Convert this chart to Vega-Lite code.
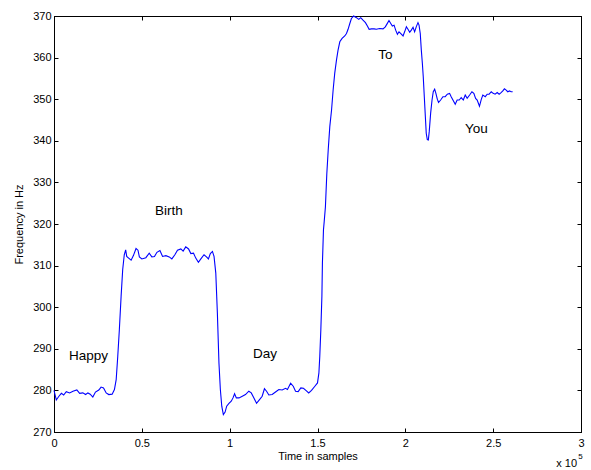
{
  "$schema": "https://vega.github.io/schema/vega-lite/v6.json",
  "width": 527,
  "height": 416,
  "autosize": "none",
  "padding": {"left": 54, "top": 16, "right": 10, "bottom": 38},
  "background": "white",
  "config": {
    "font": "Liberation Sans",
    "view": {"stroke": "black", "strokeWidth": 1},
    "axis": {
      "domainColor": "black", "tickColor": "black", "labelColor": "black", "titleColor": "black",
      "grid": false, "labelFont": "Liberation Sans", "titleFont": "Liberation Sans",
      "labelFontSize": 11, "titleFontSize": 11, "titleFontWeight": "normal", "tickSize": -4
    }
  },
  "datasets": {
    "pitch": [
      {"t":0,"f":280},{"t":0.013,"f":277.7},{"t":0.028,"f":278.6},{"t":0.042,"f":279.3},{"t":0.055,"f":278.9},{"t":0.07,"f":279.7},{"t":0.089,"f":279.4},{"t":0.108,"f":279.8},{"t":0.13,"f":280.1},{"t":0.146,"f":279.3},{"t":0.164,"f":279.4},{"t":0.18,"f":279.0},{"t":0.193,"f":279.4},{"t":0.206,"f":279.1},{"t":0.221,"f":278.4},{"t":0.236,"f":279.6},{"t":0.255,"f":280.1},{"t":0.268,"f":280.8},{"t":0.282,"f":280.6},{"t":0.297,"f":279.4},{"t":0.312,"f":279.0},{"t":0.331,"f":279.1},{"t":0.344,"f":280.2},{"t":0.354,"f":282.6},{"t":0.363,"f":288.2},{"t":0.372,"f":294.6},{"t":0.382,"f":302.6},{"t":0.391,"f":309},{"t":0.4,"f":312.6},{"t":0.408,"f":313.8},{"t":0.414,"f":312.2},{"t":0.425,"f":311.8},{"t":0.439,"f":311.3},{"t":0.452,"f":312.4},{"t":0.467,"f":314.1},{"t":0.478,"f":313.7},{"t":0.486,"f":312.1},{"t":0.5,"f":311.6},{"t":0.523,"f":311.9},{"t":0.542,"f":313},{"t":0.557,"f":312.1},{"t":0.572,"f":312.2},{"t":0.586,"f":313.2},{"t":0.603,"f":313.6},{"t":0.618,"f":312.2},{"t":0.637,"f":312.4},{"t":0.656,"f":312.1},{"t":0.671,"f":311.6},{"t":0.688,"f":312.6},{"t":0.703,"f":313.7},{"t":0.722,"f":314.0},{"t":0.735,"f":313.5},{"t":0.75,"f":314.5},{"t":0.766,"f":314},{"t":0.779,"f":312.9},{"t":0.794,"f":313},{"t":0.807,"f":311.8},{"t":0.822,"f":310.8},{"t":0.836,"f":311.6},{"t":0.854,"f":312.6},{"t":0.868,"f":312.1},{"t":0.879,"f":311.6},{"t":0.89,"f":312.9},{"t":0.902,"f":313.4},{"t":0.911,"f":312.2},{"t":0.921,"f":308.2},{"t":0.93,"f":298.6},{"t":0.939,"f":286.6},{"t":0.947,"f":280.2},{"t":0.955,"f":276.2},{"t":0.964,"f":274.2},{"t":0.974,"f":274.8},{"t":0.983,"f":276.2},{"t":0.996,"f":276.9},{"t":1.009,"f":277.4},{"t":1.019,"f":278.2},{"t":1.028,"f":279.2},{"t":1.038,"f":278.2},{"t":1.053,"f":278.2},{"t":1.072,"f":278.6},{"t":1.09,"f":279},{"t":1.109,"f":279.8},{"t":1.123,"f":279.4},{"t":1.138,"f":278.2},{"t":1.153,"f":276.9},{"t":1.17,"f":277.8},{"t":1.185,"f":278.6},{"t":1.198,"f":280.4},{"t":1.21,"f":279.8},{"t":1.223,"f":278.9},{"t":1.242,"f":279},{"t":1.261,"f":279.6},{"t":1.28,"f":280.2},{"t":1.299,"f":280.1},{"t":1.318,"f":280.5},{"t":1.329,"f":280.2},{"t":1.347,"f":281.7},{"t":1.362,"f":281},{"t":1.375,"f":279.8},{"t":1.39,"f":279.7},{"t":1.405,"f":280.6},{"t":1.42,"f":280.5},{"t":1.437,"f":279.9},{"t":1.45,"f":279.4},{"t":1.466,"f":280},{"t":1.485,"f":281},{"t":1.5,"f":281.8},{"t":1.508,"f":284.2},{"t":1.513,"f":288.2},{"t":1.519,"f":294.6},{"t":1.525,"f":302.6},{"t":1.528,"f":310.6},{"t":1.534,"f":318.6},{"t":1.538,"f":320.5},{"t":1.545,"f":324.1},{"t":1.553,"f":332.1},{"t":1.561,"f":337.8},{"t":1.57,"f":343.4},{"t":1.58,"f":347.4},{"t":1.589,"f":352.2},{"t":1.598,"f":356.2},{"t":1.608,"f":359.4},{"t":1.617,"f":361.8},{"t":1.627,"f":363.8},{"t":1.64,"f":364.6},{"t":1.655,"f":365.2},{"t":1.665,"f":365.8},{"t":1.674,"f":366.8},{"t":1.684,"f":368.2},{"t":1.693,"f":369.4},{"t":1.706,"f":370},{"t":1.722,"f":369.6},{"t":1.735,"f":369.2},{"t":1.746,"f":369.6},{"t":1.759,"f":369},{"t":1.773,"f":368.4},{"t":1.784,"f":367.6},{"t":1.794,"f":366.8},{"t":1.807,"f":366.9},{"t":1.822,"f":366.9},{"t":1.835,"f":366.8},{"t":1.854,"f":367},{"t":1.873,"f":366.9},{"t":1.886,"f":367.4},{"t":1.896,"f":368.1},{"t":1.907,"f":368.9},{"t":1.917,"f":368.2},{"t":1.926,"f":367.6},{"t":1.936,"f":367.8},{"t":1.945,"f":366.6},{"t":1.955,"f":365.6},{"t":1.964,"f":366.2},{"t":1.973,"f":365.8},{"t":1.987,"f":365.2},{"t":1.996,"f":366.2},{"t":2.006,"f":367.4},{"t":2.015,"f":366.8},{"t":2.025,"f":366.1},{"t":2.034,"f":366.6},{"t":2.044,"f":367.3},{"t":2.053,"f":366.2},{"t":2.062,"f":367.4},{"t":2.072,"f":368.4},{"t":2.078,"f":367.8},{"t":2.085,"f":365.8},{"t":2.091,"f":361.8},{"t":2.097,"f":358.6},{"t":2.102,"f":355.4},{"t":2.108,"f":350.6},{"t":2.114,"f":345.8},{"t":2.119,"f":341.8},{"t":2.125,"f":340.3},{"t":2.131,"f":340.2},{"t":2.136,"f":342.2},{"t":2.144,"f":346.6},{"t":2.152,"f":349.8},{"t":2.159,"f":351.8},{"t":2.167,"f":352.4},{"t":2.174,"f":351.4},{"t":2.182,"f":350},{"t":2.189,"f":349.2},{"t":2.201,"f":349.8},{"t":2.214,"f":350.6},{"t":2.227,"f":350.6},{"t":2.239,"f":351.2},{"t":2.252,"f":351.4},{"t":2.261,"f":350.6},{"t":2.271,"f":349.8},{"t":2.284,"f":348.8},{"t":2.295,"f":349.8},{"t":2.307,"f":349.8},{"t":2.318,"f":350.4},{"t":2.33,"f":349.8},{"t":2.341,"f":351},{"t":2.352,"f":350.2},{"t":2.366,"f":351},{"t":2.379,"f":351.8},{"t":2.39,"f":351.4},{"t":2.4,"f":350.2},{"t":2.409,"f":349.8},{"t":2.422,"f":348.3},{"t":2.432,"f":349.9},{"t":2.441,"f":351},{"t":2.455,"f":350.6},{"t":2.466,"f":351.2},{"t":2.477,"f":351.2},{"t":2.489,"f":351.8},{"t":2.5,"f":351.4},{"t":2.511,"f":351.2},{"t":2.523,"f":351.6},{"t":2.534,"f":351.2},{"t":2.545,"f":351.6},{"t":2.555,"f":352},{"t":2.564,"f":352.5},{"t":2.574,"f":352.2},{"t":2.583,"f":351.8},{"t":2.593,"f":352},{"t":2.602,"f":351.8},{"t":2.611,"f":351.8}
    ],
    "words": [
      {"t":0.085,"f":288.3,"word":"Happy"},
      {"t":0.575,"f":323.1,"word":"Birth"},
      {"t":1.133,"f":288.75,"word":"Day"},
      {"t":1.846,"f":360.6,"word":"To"},
      {"t":2.339,"f":342.8,"word":"You"}
    ],
    "corner": [{"t":3,"f":270}]
  },
  "layer": [
    {
      "data": {"name": "pitch"},
      "mark": {"type": "line", "color": "#0000FF", "strokeWidth": 1.1},
      "encoding": {
        "x": {"field": "t", "type": "quantitative", "scale": {"domain": [0, 3], "nice": false, "zero": false},
              "axis": {"orient": "bottom", "title": "Time in samples", "values": [0,0.5,1,1.5,2,2.5,3], "format": "~g", "labelPadding": 9, "titleOffset": 0, "titlePadding": 2, "labelFlush": false}},
        "y": {"field": "f", "type": "quantitative", "scale": {"domain": [270, 370], "nice": false, "zero": false},
              "axis": {"orient": "left", "title": "Frequency in Hz", "values": [270,280,290,300,310,320,330,340,350,360,370], "labelPadding": 7, "titlePadding": 8, "labelFlush": false}}
      }
    },
    {
      "data": {"name": "words"},
      "mark": {"type": "text", "align": "left", "baseline": "middle", "fontSize": 13.5, "color": "black", "font": "Liberation Sans"},
      "encoding": {
        "x": {"field": "t", "type": "quantitative", "scale": {"domain": [0, 3], "nice": false, "zero": false},
              "axis": {"orient": "top", "title": null, "labels": false, "domain": true, "values": [0,0.5,1,1.5,2,2.5,3]}},
        "y": {"field": "f", "type": "quantitative", "scale": {"domain": [270, 370], "nice": false, "zero": false},
              "axis": {"orient": "right", "title": null, "labels": false, "domain": true, "values": [270,280,290,300,310,320,330,340,350,360,370]}},
        "text": {"field": "word"}
      }
    },
    {
      "data": {"name": "corner"},
      "mark": {"type": "text", "align": "right", "baseline": "middle", "fontSize": 11, "dx": -4, "dy": 32, "color": "black", "clip": false},
      "encoding": {
        "x": {"field": "t", "type": "quantitative", "axis": null},
        "y": {"field": "f", "type": "quantitative", "axis": null},
        "text": {"value": "x 10"}
      }
    },
    {
      "data": {"name": "corner"},
      "mark": {"type": "text", "align": "center", "baseline": "middle", "fontSize": 8, "dx": -0.5, "dy": 25, "color": "black", "clip": false},
      "encoding": {
        "x": {"field": "t", "type": "quantitative", "axis": null},
        "y": {"field": "f", "type": "quantitative", "axis": null},
        "text": {"value": "5"}
      }
    }
  ],
  "resolve": {"axis": {"x": "independent", "y": "independent"}}
}
